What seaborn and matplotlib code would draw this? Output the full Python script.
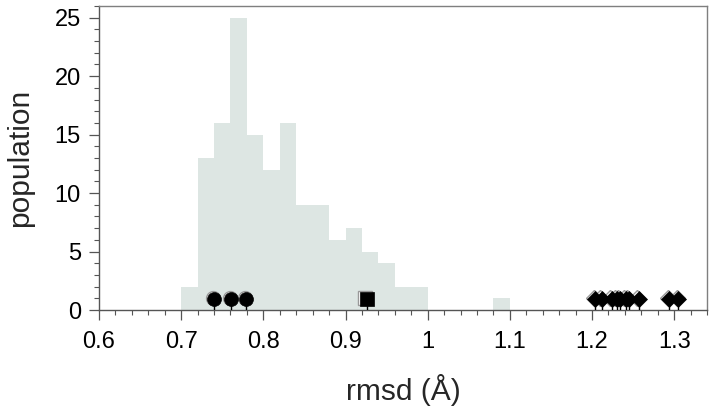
import pandas as pd
import matplotlib
matplotlib.use("Agg")
import matplotlib.pyplot as plt
import matplotlib.transforms as mtrans
from matplotlib.ticker import MultipleLocator
import seaborn as sns

# histogram: bin centres (width 0.02) and counts
bin_centers = [0.71, 0.73, 0.75, 0.77, 0.79, 0.81, 0.83, 0.85, 0.87,
               0.89, 0.91, 0.93, 0.95, 0.97, 0.99, 1.09]
bin_counts = [2, 13, 16, 25, 15, 12, 16, 9, 9, 6, 7, 5, 4, 2, 2, 1]

# marked structures
circle_x = [0.740, 0.761, 0.779]
square_x = [0.926]
diamond_x = [1.204, 1.212, 1.224, 1.230, 1.234, 1.241, 1.245, 1.257, 1.294, 1.305]
marker_y = 0.9

x_ticks = [0.6, 0.7, 0.8, 0.9, 1.0, 1.1, 1.2, 1.3]
x_labels = ["0.6", "0.7", "0.8", "0.9", "1", "1.1", "1.2", "1.3"]

sns.set_theme(style="white")
plt.rcParams["font.family"] = ["Liberation Sans", "DejaVu Sans"]

fig = plt.figure(figsize=(7.14, 4.11), dpi=100)
ax = fig.add_axes([0.1387, 0.2457, 0.8515, 0.7397])

hist_df = pd.DataFrame({"rmsd": bin_centers, "count": bin_counts})
sns.histplot(data=hist_df, x="rmsd", weights="count", binwidth=0.02,
             binrange=(0.70, 1.10), ax=ax,
             color="#dde6e3", alpha=1, linewidth=0, edgecolor="none")

# stems
for xs in (circle_x, square_x, diamond_x):
    ax.vlines(xs, 0, marker_y, color="black", linewidth=1, zorder=3)

# grey outline slightly up-left of each marker
ghost = mtrans.offset_copy(ax.transData, fig=fig, x=-1.5, y=1.5, units="dots")
styles = [(circle_x, "o", 10), (square_x, "s", 10), (diamond_x, "D", 8)]
for xs, m, ms in styles:
    ys = [marker_y] * len(xs)
    ax.plot(xs, ys, linestyle="none", marker=m, markersize=ms,
            markerfacecolor="white", markeredgecolor="#999999",
            markeredgewidth=1, transform=ghost, zorder=4)
    ax.plot(xs, ys, linestyle="none", marker=m, markersize=ms,
            markerfacecolor="black", markeredgecolor="black",
            markeredgewidth=0.5, zorder=5)

ax.set_xlim(0.6, 1.34)
ax.set_ylim(0, 26)
ax.set_xticks(x_ticks)
ax.set_xticklabels(x_labels)
ax.xaxis.set_minor_locator(MultipleLocator(0.02))
ax.yaxis.set_major_locator(MultipleLocator(5))
ax.yaxis.set_minor_locator(MultipleLocator(1))

for side, sp in ax.spines.items():
    sp.set_visible(True)
    sp.set_color("#7f7f7f")
    sp.set_linewidth(1)
ax.spines["left"].set_color("#555555")
ax.spines["bottom"].set_color("#555555")

ax.tick_params(axis="both", which="major", direction="out", length=7,
               width=0.9, color="#555555", labelsize=17, labelcolor="black",
               bottom=True, left=True, pad=8)
ax.tick_params(axis="both", which="minor", direction="out", length=3.5,
               width=0.8, color="#555555", bottom=True, left=True)
ax.tick_params(axis="y", which="major", pad=6)

ax.set_xlabel("rmsd (Å)", fontsize=21.5, labelpad=15)
ax.set_ylabel("population", fontsize=21.5, labelpad=15)

fig.savefig("out.png", dpi=100, facecolor="white")
